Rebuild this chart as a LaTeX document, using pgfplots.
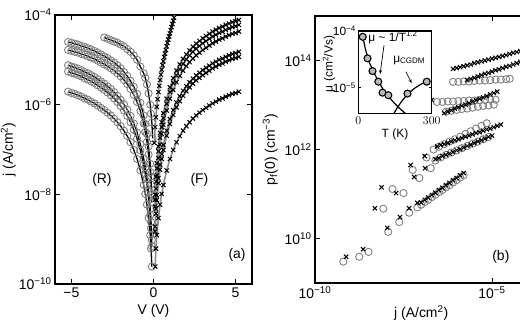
\documentclass[border=0pt]{standalone}
\usepackage{fontspec}
\setmainfont{Liberation Sans}
\usepackage{pgfplots}
\pgfplotsset{compat=1.18}
\usepackage{pgfplotstable}
\usetikzlibrary{arrows.meta}

\definecolor{mgray}{gray}{0.5}
\definecolor{lgray}{gray}{0.55}
\newcommand{\pw}[1]{10\textsuperscript{#1}}

\pgfplotsset{
  matlab/.style={
    scale only axis,
    axis line style={line width=1.1bp},
    every tick/.style={black, line width=0.8bp},
    major tick length=5bp,
    tick align=inside,
    tick pos=both,
    xminorticks=false, yminorticks=false,
    tick label style={font=\fontsize{14}{16}\selectfont},
    label style={font=\fontsize{14}{16}\selectfont},
  },
  rev/.style={only marks, mark=o, mark size=3.6bp, mgray, mark options={line width=0.9bp}},
  fwd/.style={only marks, mark=x, mark size=3bp, black, mark options={line width=1bp}},
  revfit/.style={black, line width=1.3bp, no marks},
  fwdfit/.style={lgray, line width=1.6bp, no marks},
}

% reverse-bias sweeps (A/cm^2)
\pgfplotstableread{
V     r2      r3      r4      r5      r6
-5.2  2.51e-5 1.66e-5 7.59e-6 5.50e-6 1.95e-6
-5.0  2.40e-5 1.58e-5 7.08e-6 5.13e-6 1.82e-6
-4.8  2.29e-5 1.51e-5 6.76e-6 4.90e-6 1.74e-6
-4.6  2.19e-5 1.45e-5 6.31e-6 4.57e-6 1.62e-6
-4.4  2.04e-5 1.35e-5 5.89e-6 4.27e-6 1.51e-6
-4.2  1.95e-5 1.29e-5 5.37e-6 3.89e-6 1.38e-6
-4.0  1.82e-5 1.20e-5 5.01e-6 3.63e-6 1.29e-6
-3.8  1.70e-5 1.12e-5 4.57e-6 3.31e-6 1.17e-6
-3.6  1.58e-5 1.05e-5 4.17e-6 3.02e-6 1.07e-6
-3.4  1.45e-5 9.55e-6 3.72e-6 2.69e-6 9.55e-7
-3.2  1.32e-5 8.71e-6 3.31e-6 2.40e-6 8.51e-7
-3.0  1.20e-5 7.94e-6 2.95e-6 2.14e-6 7.59e-7
-2.8  1.10e-5 7.24e-6 2.57e-6 1.86e-6 6.61e-7
-2.6  9.77e-6 6.46e-6 2.24e-6 1.62e-6 5.75e-7
-2.4  8.71e-6 5.75e-6 1.91e-6 1.38e-6 4.90e-7
-2.2  7.59e-6 5.01e-6 1.58e-6 1.15e-6 4.07e-7
-2.0  6.46e-6 4.27e-6 1.29e-6 9.33e-7 3.31e-7
-1.8  5.37e-6 3.55e-6 1.02e-6 7.41e-7 2.63e-7
-1.6  4.37e-6 2.88e-6 7.76e-7 5.62e-7 2.00e-7
-1.4  3.39e-6 2.24e-6 5.62e-7 4.07e-7 1.45e-7
-1.2  2.51e-6 1.66e-6 3.80e-7 2.75e-7 9.77e-8
-1.0  1.74e-6 1.15e-6 2.40e-7 1.74e-7 6.17e-8
-0.8  1.10e-6 7.24e-7 1.32e-7 9.55e-8 3.39e-8
-0.6  5.75e-7 3.80e-7 6.31e-8 4.57e-8 1.62e-8
-0.5  3.72e-7 2.45e-7 3.98e-8 2.88e-8 1.02e-8
-0.4  2.24e-7 1.48e-7 2.29e-8 1.66e-8 5.89e-9
-0.3  1.17e-7 7.76e-8 1.15e-8 8.32e-9 2.95e-9
-0.2  4.79e-8 3.16e-8 4.79e-9 3.47e-9 1.23e-9
-0.15 2.51e-8 1.66e-8 2.40e-9 1.74e-9 6.17e-10
-0.1  1.00e-8 6.61e-9 9.55e-10 6.92e-10 2.45e-10
}\Rtab

% forward-bias sweeps (A/cm^2)
\pgfplotstableread{
V    f2      f3      f4      f5      f6      f7
0.1  9.77e-9 7.59e-9 5.37e-9 1.91e-9 1.48e-9 2.45e-10
0.15 2.45e-8 1.91e-8 1.35e-8 4.79e-9 3.72e-9 6.17e-10
0.2  4.90e-8 3.80e-8 2.69e-8 9.55e-9 7.41e-9 1.23e-9
0.3  1.17e-7 9.12e-8 6.46e-8 2.29e-8 1.78e-8 2.95e-9
0.4  2.34e-7 1.82e-7 1.29e-7 4.57e-8 3.55e-8 5.89e-9
0.5  4.07e-7 3.16e-7 2.24e-7 7.94e-8 6.17e-8 1.02e-8
0.6  6.46e-7 5.01e-7 3.55e-7 1.26e-7 9.77e-8 1.62e-8
0.8  1.35e-6 1.05e-6 7.41e-7 2.63e-7 2.04e-7 3.39e-8
1.0  2.45e-6 1.91e-6 1.35e-6 4.79e-7 3.72e-7 6.17e-8
1.2  3.89e-6 3.02e-6 2.14e-6 7.59e-7 5.89e-7 9.77e-8
1.4  5.75e-6 4.47e-6 3.16e-6 1.12e-6 8.71e-7 1.45e-7
1.6  7.94e-6 6.17e-6 4.37e-6 1.55e-6 1.20e-6 2.00e-7
1.8  1.05e-5 8.13e-6 5.75e-6 2.04e-6 1.58e-6 2.63e-7
2.0  1.32e-5 1.02e-5 7.24e-6 2.57e-6 2.00e-6 3.31e-7
2.2  1.62e-5 1.26e-5 8.91e-6 3.16e-6 2.45e-6 4.07e-7
2.4  1.95e-5 1.51e-5 1.07e-5 3.80e-6 2.95e-6 4.90e-7
2.6  2.29e-5 1.78e-5 1.26e-5 4.47e-6 3.47e-6 5.75e-7
2.8  2.63e-5 2.04e-5 1.45e-5 5.13e-6 3.98e-6 6.61e-7
3.0  3.02e-5 2.34e-5 1.66e-5 5.89e-6 4.57e-6 7.59e-7
3.2  3.39e-5 2.63e-5 1.86e-5 6.61e-6 5.13e-6 8.51e-7
3.4  3.80e-5 2.95e-5 2.09e-5 7.41e-6 5.75e-6 9.55e-7
3.6  4.27e-5 3.31e-5 2.34e-5 8.32e-6 6.46e-6 1.07e-6
3.8  4.68e-5 3.63e-5 2.57e-5 9.12e-6 7.08e-6 1.17e-6
4.0  5.13e-5 3.98e-5 2.82e-5 1.00e-5 7.76e-6 1.29e-6
4.2  5.50e-5 4.27e-5 3.02e-5 1.07e-5 8.32e-6 1.38e-6
4.4  6.03e-5 4.68e-5 3.31e-5 1.17e-5 9.12e-6 1.51e-6
4.6  6.46e-5 5.01e-5 3.55e-5 1.26e-5 9.77e-6 1.62e-6
4.8  6.92e-5 5.37e-5 3.80e-5 1.35e-5 1.05e-5 1.74e-6
5.0  7.24e-5 5.62e-5 3.98e-5 1.41e-5 1.10e-5 1.82e-6
5.2  7.76e-5 6.03e-5 4.27e-5 1.51e-5 1.17e-5 1.95e-6
}\Ftab

% the +/-3 V sweep
\pgfplotstableread{
V     j
-3.0  3.16e-5
-2.8  2.95e-5
-2.6  2.75e-5
-2.4  2.57e-5
-2.2  2.40e-5
-2.0  2.19e-5
-1.8  2.00e-5
-1.6  1.74e-5
-1.4  1.51e-5
-1.2  1.26e-5
-1.0  1.00e-5
-0.8  7.08e-6
-0.6  5.01e-6
-0.5  3.98e-6
-0.4  2.82e-6
-0.3  1.78e-6
-0.2  1.00e-6
-0.15 6.31e-7
-0.1  3.98e-7
-0.05 1.78e-7
}\RoneTab
\pgfplotstableread{
V    j
0.05 1.41e-7
0.10 3.16e-7
0.15 5.25e-7
0.20 8.91e-7
0.25 1.32e-6
0.30 1.91e-6
0.35 2.63e-6
0.40 3.55e-6
0.45 4.68e-6
0.50 6.03e-6
0.55 7.59e-6
0.60 9.33e-6
0.65 1.15e-5
0.70 1.38e-5
0.75 1.66e-5
0.80 2.00e-5
0.85 2.40e-5
0.90 2.82e-5
0.95 3.31e-5
1.00 3.89e-5
1.05 4.57e-5
1.10 5.37e-5
1.15 6.31e-5
1.20 7.41e-5
1.25 8.71e-5
1.30 1.02e-4
1.35 1.17e-4
}\FoneTab

\begin{document}
\begin{tikzpicture}[x=1bp,y=1bp]
\path[use as bounding box, clip] (0,0) rectangle (520,327);

%% (a) current density vs voltage
\begin{axis}[matlab,
  at={(55bp,43bp)}, anchor=south west,
  width=197bp, height=269bp,
  xmin=-6, xmax=6,
  ymode=log, ymin=1e-10, ymax=1e-4,
  xtick={-5,0,5}, xticklabels={−5,0,5},
  ytick={1e-10,1e-8,1e-6,1e-4},
  yticklabels={\pw{−10},\pw{−8},\pw{−6},\pw{−4}},
  xlabel={V (V)},
  ylabel={j (A/cm\textsuperscript{2})},
  ylabel style={at={(axis description cs:-0.198,0.5)}, anchor=south, inner sep=0pt},
]
\addplot[rev] table[x=V,y=j]  {\RoneTab};
\addplot[rev] table[x=V,y=r2] {\Rtab};
\addplot[rev] table[x=V,y=r3] {\Rtab};
\addplot[rev] table[x=V,y=r4] {\Rtab};
\addplot[rev] table[x=V,y=r5] {\Rtab};
\addplot[rev] table[x=V,y=r6] {\Rtab};
\addplot[revfit] table[x=V,y=j]  {\RoneTab};
\addplot[revfit] table[x=V,y=r2] {\Rtab};
\addplot[revfit] table[x=V,y=r3] {\Rtab};
\addplot[revfit] table[x=V,y=r4] {\Rtab};
\addplot[revfit] table[x=V,y=r5] {\Rtab};
\addplot[revfit] table[x=V,y=r6] {\Rtab};

\addplot[fwd] table[x=V,y=j]  {\FoneTab};
\addplot[fwd] table[x=V,y=f2] {\Ftab};
\addplot[fwd] table[x=V,y=f3] {\Ftab};
\addplot[fwd] table[x=V,y=f4] {\Ftab};
\addplot[fwd] table[x=V,y=f5] {\Ftab};
\addplot[fwd] table[x=V,y=f6] {\Ftab};
\addplot[fwd] table[x=V,y=f7] {\Ftab};
\addplot[fwdfit] table[x=V,y=j]  {\FoneTab};
\addplot[fwdfit] table[x=V,y=f2] {\Ftab};
\addplot[fwdfit] table[x=V,y=f3] {\Ftab};
\addplot[fwdfit] table[x=V,y=f4] {\Ftab};
\addplot[fwdfit] table[x=V,y=f5] {\Ftab};
\addplot[fwdfit] table[x=V,y=f6] {\Ftab};
\addplot[fwdfit] table[x=V,y=f7] {\Ftab};

\node[font=\fontsize{14}{16}\selectfont] at (axis cs:-3.14,2.1e-8) {(R)};
\node[font=\fontsize{14}{16}\selectfont] at (axis cs:2.8,2.1e-8) {(F)};
\node[font=\fontsize{14}{16}\selectfont] at (axis cs:5.09,4.4e-10) {(a)};
\end{axis}

%% (b) free hole density at the interface vs current density
\begin{axis}[matlab,
  at={(315bp,44bp)}, anchor=south west,
  width=212.4bp, height=267bp,
  xmode=log, ymode=log,
  xmin=1e-10, xmax=1e-4, ymin=1e9, ymax=1e15,
  xtick={1e-10,1e-5}, xticklabels={\pw{−10},\pw{−5}},
  ytick={1e10,1e12,1e14}, yticklabels={\pw{10},\pw{12},\pw{14}},
  xlabel={j (A/cm\textsuperscript{2})},
  ylabel={p\textsubscript{f}(0) (cm\textsuperscript{−3})},
]
% circles
\addplot[rev] coordinates {(7.94e-7,3.31e13)(1.12e-6,3.31e13)(1.58e-6,3.39e13)(2.24e-6,3.39e13)(3.16e-6,3.47e13)(4.47e-6,3.55e13)(6.31e-6,3.55e13)(8.91e-6,3.63e13)(1.26e-5,3.72e13)(1.78e-5,3.72e13)(2.51e-5,3.80e13)(3.16e-5,3.89e13)};
\addplot[rev] coordinates {(2.82e-7,1.17e13)(3.98e-7,1.17e13)(5.62e-7,1.20e13)(7.94e-7,1.20e13)(1.12e-6,1.23e13)(1.58e-6,1.23e13)(2.24e-6,1.26e13)(3.16e-6,1.26e13)(4.47e-6,1.29e13)(6.31e-6,1.29e13)(8.91e-6,1.32e13)(1.26e-5,1.32e13)};
\addplot[rev] coordinates {(5.01e-7,7.08e12)(7.08e-7,7.41e12)(1e-6,7.76e12)(1.41e-6,8.13e12)(2.00e-6,8.32e12)(2.82e-6,8.71e12)(3.98e-6,9.12e12)(5.62e-6,9.55e12)(7.94e-6,9.77e12)(1.12e-5,1.02e13)};
\addplot[rev] coordinates {(2.24e-7,1.00e12)(3.16e-7,1.15e12)(4.47e-7,1.32e12)(6.31e-7,1.51e12)(8.91e-7,1.70e12)(1.26e-6,1.95e12)(1.78e-6,2.24e12)(2.51e-6,2.57e12)(3.55e-6,2.95e12)(5.01e-6,3.39e12)(7.08e-6,3.89e12)};
\addplot[rev] coordinates {(8.51e-9,4.68e10)(3.16e-8,1.05e11)(8.91e-8,2.29e11)(1.86e-7,3.80e11)(2.51e-7,5.62e11)(3.55e-7,6.61e11)(5.01e-7,7.59e11)(7.08e-7,8.51e11)(1.00e-6,9.55e11)(1.41e-6,1.07e12)(2.00e-6,1.20e12)(2.82e-6,1.35e12)(3.98e-6,1.51e12)(5.62e-6,1.70e12)(7.94e-6,1.91e12)};
\addplot[rev] coordinates {(1.55e-8,1.29e11)(5.75e-8,3.47e11)(1.41e-7,6.61e11)};
\addplot[rev] coordinates {(6.31e-10,3.02e9)(1.78e-9,3.89e9)(3.24e-9,5.01e9)(1.17e-8,1.41e10)(2.40e-8,2.34e10)(4.57e-8,3.80e10)(7.76e-8,5.01e10)(1.00e-7,5.75e10)(1.26e-7,6.61e10)(1.58e-7,7.41e10)(2.00e-7,8.51e10)(2.51e-7,9.55e10)(3.16e-7,1.10e11)(3.98e-7,1.23e11)(5.01e-7,1.41e11)(6.31e-7,1.58e11)(7.94e-7,1.82e11)(1.00e-6,2.04e11)(1.26e-6,2.34e11)(1.58e-6,2.63e11)};
% crosses
\addplot[fwd] coordinates {(7.94e-7,6.46e13)(1.00e-6,6.76e13)(1.26e-6,7.08e13)(1.58e-6,7.41e13)(2.00e-6,7.76e13)(2.51e-6,8.13e13)(3.16e-6,8.71e13)(3.98e-6,9.12e13)(5.01e-6,9.55e13)(6.31e-6,1.00e14)(7.94e-6,1.05e14)(1.00e-5,1.10e14)(1.26e-5,1.15e14)(1.58e-5,1.20e14)(2.00e-5,1.26e14)(2.51e-5,1.32e14)(3.16e-5,1.41e14)(3.98e-5,1.48e14)(5.01e-5,1.55e14)(6.31e-5,1.62e14)};
\addplot[fwd] coordinates {(2.00e-6,3.63e13)(2.51e-6,3.89e13)(3.16e-6,4.07e13)(3.98e-6,4.37e13)(5.01e-6,4.68e13)(6.31e-6,5.01e13)(7.94e-6,5.25e13)(1.00e-5,5.62e13)(1.26e-5,6.03e13)(1.58e-5,6.31e13)(2.00e-5,6.76e13)(2.51e-5,7.24e13)(3.16e-5,7.59e13)(3.98e-5,8.13e13)(5.01e-5,8.71e13)(6.31e-5,9.33e13)};
\addplot[fwd] coordinates {(2.00e-7,1.29e13)};
\addplot[fwd] coordinates {(4.47e-7,6.61e12)(5.62e-7,7.08e12)(7.08e-7,7.59e12)(8.91e-7,8.32e12)(1.12e-6,8.91e12)(1.41e-6,9.55e12)(1.78e-6,1.02e13)(2.24e-6,1.10e13)(2.82e-6,1.20e13)(3.55e-6,1.29e13)(4.47e-6,1.38e13)(5.62e-6,1.48e13)(7.08e-6,1.58e13)(8.91e-6,1.74e13)(1.12e-5,1.86e13)(1.41e-5,2.00e13)};
\addplot[fwd] coordinates {(2.82e-7,1.17e12)(3.55e-7,1.26e12)(4.47e-7,1.32e12)(5.62e-7,1.41e12)(7.08e-7,1.51e12)(8.91e-7,1.62e12)(1.12e-6,1.70e12)(1.41e-6,1.82e12)(1.78e-6,1.95e12)(2.24e-6,2.04e12)(2.82e-6,2.19e12)(3.55e-6,2.34e12)(4.47e-6,2.45e12)(5.62e-6,2.63e12)(7.08e-6,2.82e12)(8.91e-6,2.95e12)(1.12e-5,3.16e12)(1.41e-5,3.39e12)(1.78e-5,3.63e12)};
\addplot[fwd] coordinates {(4.90e-9,4.79e10)(1.95e-8,1.05e11)(6.31e-8,2.40e11)(1.29e-7,3.80e11)(2.51e-7,6.03e11)(3.16e-7,6.46e11)(3.98e-7,7.08e11)(5.01e-7,7.59e11)(6.31e-7,8.13e11)(7.94e-7,8.71e11)(1.00e-6,9.55e11)(1.26e-6,1.02e12)(1.58e-6,1.10e12)(2.00e-6,1.20e12)(2.51e-6,1.29e12)(3.16e-6,1.38e12)(3.98e-6,1.51e12)(5.01e-6,1.62e12)(6.31e-6,1.74e12)(7.94e-6,1.91e12)(1.00e-5,2.04e12)};
\addplot[fwd] coordinates {(7.59e-9,1.41e11)(5.01e-8,4.47e11)(1.26e-7,7.08e11)};
\addplot[fwd] coordinates {(7.59e-10,3.89e9)(2.29e-9,5.75e9)(1.10e-8,1.74e10)(2.51e-8,3.02e10)(4.57e-8,4.79e10)(7.76e-8,6.31e10)(1.00e-7,6.46e10)(1.26e-7,7.41e10)(1.58e-7,8.32e10)(2.00e-7,9.55e10)(2.51e-7,1.07e11)(3.16e-7,1.23e11)(3.98e-7,1.38e11)(5.01e-7,1.58e11)(6.31e-7,1.78e11)(7.94e-7,2.04e11)(1.00e-6,2.29e11)(1.26e-6,2.63e11)(1.58e-6,2.95e11)};

\node[font=\fontsize{14}{16}\selectfont] at (axis cs:1.78e-5,3.8e9) {(b)};
\end{axis}

%% inset: mobility vs temperature
\begin{axis}[matlab,
  at={(358.3bp,213.7bp)}, anchor=south west,
  width=73.4bp, height=82.3bp,
  xmin=0, xmax=300,
  ymode=log, ymin=3.55e-6, ymax=1e-4,
  xtick={0,300}, ytick={1e-5,1e-4},
  yticklabels={\pw{−5},\pw{−4}},
  major tick length=3bp,
  tick label style={font=\fontsize{12}{14}\selectfont},
  yticklabel style={xshift=1bp},
  label style={font=\fontsize{12}{14}\selectfont},
  xlabel={T (K)},
  ylabel={μ (cm\textsuperscript{2}/Vs)},
  xlabel style={yshift=3bp},
  ylabel style={at={(axis description cs:-0.4,0.6)}, anchor=center},
  axis background/.style={fill=white},
]
\addplot[black, line width=1.2bp] coordinates {(18,8.0e-5)(30,4.6e-5)(45,2.8e-5)(60,2.0e-5)(80,1.35e-5)(100,9.6e-6)(120,7.3e-6)(145,5.5e-6)(170,4.3e-6)(192,3.55e-6)(205,3.2e-6)};
\addplot[black, line width=1.2bp] coordinates {(140,3.2e-6)(146,3.55e-6)(160,4.5e-6)(180,6.0e-6)(204,7.9e-6)(230,9.8e-6)(255,1.15e-5)(280,1.3e-5)};
\addplot[only marks, mark=*, mark size=3.5bp, mark options={fill=gray!55, draw=black, line width=1.1bp}]
  coordinates {(18,7.9e-5)(37.6,3.3e-5)(58,1.97e-5)(81.7,1.28e-5)(99,8.2e-6)(122.6,7.4e-6)(201,7.9e-6)(279.6,1.28e-5)};
\node[font=\fontsize{12}{14}\selectfont, anchor=base west, inner sep=0pt] at (axis cs:40,6.6e-5) {μ \textasciitilde{} 1/T\textsuperscript{1.2}};
\node[font=\fontsize{12}{14}\selectfont, anchor=base west, inner sep=0pt] at (axis cs:142,2.84e-5) {μ\textsubscript{CGDM}};
\draw[-{Stealth[length=4bp,width=3bp]}, line width=0.7bp] (axis cs:105,5.6e-5) -- (axis cs:89,1.74e-5);
\draw[-{Stealth[length=4bp,width=3bp]}, line width=0.7bp] (axis cs:195,1.91e-5) -- (axis cs:218,1.2e-5);
\end{axis}
\end{tikzpicture}
\end{document}
